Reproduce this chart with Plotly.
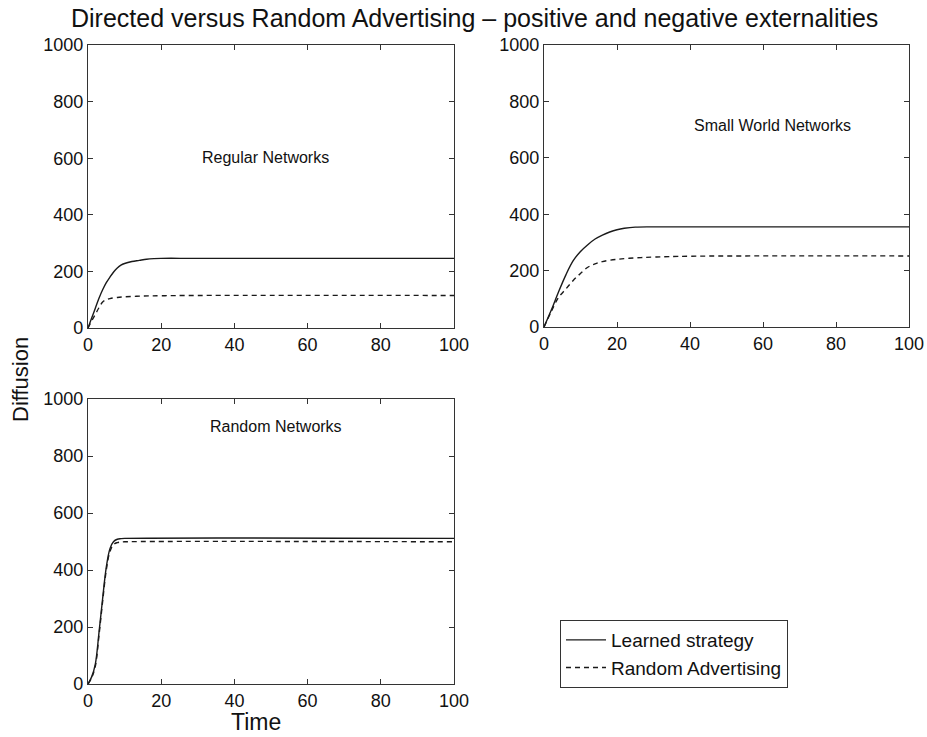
import plotly.graph_objects as go

# Regular networks
reg_t_learn = [0, 1, 2, 3, 4, 5, 6, 7, 8, 9, 10, 12, 14, 16, 18, 20, 30, 100]
reg_learn = [0, 35, 70, 105, 135, 160, 180, 198, 212, 222, 228, 235, 239, 243, 245, 246, 246, 246]
reg_t_rand = [0, 1, 2, 3, 4, 5, 6, 8, 10, 15, 20, 30, 100]
reg_rand = [0, 25, 48, 72, 92, 100, 104, 108, 110, 113, 114, 115, 115]

# Small world networks
sw_t_learn = [0, 2, 4, 6, 8, 10, 12, 14, 16, 18, 20, 22, 25, 30, 100]
sw_learn = [0, 60, 125, 185, 235, 268, 292, 312, 326, 337, 345, 350, 354, 355, 355]
sw_t_rand = [0, 2, 4, 6, 8, 10, 12, 14, 16, 20, 25, 30, 40, 100]
sw_rand = [0, 55, 105, 135, 165, 190, 212, 224, 232, 240, 245, 248, 251, 252]

# Random networks
rn_t = [0, 1, 2, 3, 4, 5, 6, 7, 8, 9, 10, 100]
rn_learn = [0, 25, 70, 180, 300, 410, 475, 500, 508, 510, 511, 511]
rn_rand = [0, 22, 62, 170, 290, 400, 465, 490, 496, 498, 499, 499]

x_ticks = [0, 20, 40, 60, 80, 100]
y_ticks = [0, 200, 400, 600, 800, 1000]

W, H = 927, 737
LC = "#1a1a1a"
FAM = "Liberation Sans, Arial, sans-serif"
solid = dict(color=LC, width=1.4)
dashed = dict(color=LC, width=1.4, dash="5px,4px")

fig = go.Figure()
panels = [
    ("x", "y", reg_t_learn, reg_learn, reg_t_rand, reg_rand, True),
    ("x2", "y2", sw_t_learn, sw_learn, sw_t_rand, sw_rand, False),
    ("x3", "y3", rn_t, rn_learn, rn_t, rn_rand, False),
]
for xa, ya, tl, vl, tr, vr, show in panels:
    fig.add_trace(go.Scatter(x=tl, y=vl, mode="lines", line=solid, line_shape="spline",
                             xaxis=xa, yaxis=ya, name="Learned strategy", showlegend=show))
    fig.add_trace(go.Scatter(x=tr, y=vr, mode="lines", line=dashed, line_shape="spline",
                             xaxis=xa, yaxis=ya, name="Random Advertising", showlegend=show))

def px_x(a, b):
    return [a / W, b / W]

def px_y(top, bottom):
    return [1 - bottom / H, 1 - top / H]

axfont = dict(family=FAM, size=18, color="#111")
common_x = dict(range=[0, 100], tickvals=x_ticks, ticks="inside", ticklen=5, showline=True,
                linecolor="#333", linewidth=1.2, mirror="ticks", showgrid=False, zeroline=False,
                tickfont=axfont, tickcolor="#333", automargin=False)
common_y = dict(range=[0, 1000], tickvals=y_ticks, ticks="inside", ticklen=5, showline=True,
                linecolor="#333", linewidth=1.2, mirror="ticks", showgrid=False, zeroline=False,
                tickfont=axfont, tickcolor="#333", automargin=False)

fig.update_layout(
    width=W, height=H,
    margin=dict(l=0, r=0, t=0, b=0, autoexpand=False),
    paper_bgcolor="white", plot_bgcolor="white",
    font=dict(family=FAM, color="#111"),
    xaxis=dict(domain=px_x(88, 454), anchor="y", **common_x),
    yaxis=dict(domain=px_y(45, 328), anchor="x", **common_y),
    xaxis2=dict(domain=px_x(544, 909), anchor="y2", **common_x),
    yaxis2=dict(domain=px_y(45, 327), anchor="x2", **common_y),
    xaxis3=dict(domain=px_x(88, 454), anchor="y3", **common_x),
    yaxis3=dict(domain=px_y(399, 684), anchor="x3", **common_y),
    showlegend=True,
    legend=dict(x=560 / W, y=1 - 620 / H, xanchor="left", yanchor="top",
                bordercolor="#333", borderwidth=1, bgcolor="white",
                font=dict(family=FAM, size=19, color="#111"),
                tracegroupgap=0, itemwidth=40),
)

ann_font = dict(family=FAM, size=16, color="#111")
fig.add_annotation(text="Regular Networks", x=48.6, y=602, xref="x", yref="y",
                   showarrow=False, font=ann_font)
fig.add_annotation(text="Small World Networks", x=62.5, y=713, xref="x2", yref="y2",
                   showarrow=False, font=ann_font)
fig.add_annotation(text="Random Networks", x=51.4, y=903, xref="x3", yref="y3",
                   showarrow=False, font=ann_font)

fig.add_annotation(text="Directed versus Random Advertising – positive and negative externalities",
                   x=475 / W, y=1 - 18 / H, xref="paper", yref="paper", showarrow=False,
                   xanchor="center", yanchor="middle",
                   font=dict(family=FAM, size=25, color="#111"))
fig.add_annotation(text="Diffusion", x=20 / W, y=1 - 380 / H, xref="paper", yref="paper",
                   showarrow=False, textangle=-90, xanchor="center", yanchor="middle",
                   font=dict(family=FAM, size=22, color="#111"))
fig.add_annotation(text="Time", x=256 / W, y=1 - 722 / H, xref="paper", yref="paper",
                   showarrow=False, xanchor="center", yanchor="middle",
                   font=dict(family=FAM, size=23, color="#111"))

fig.write_html("out.html")
